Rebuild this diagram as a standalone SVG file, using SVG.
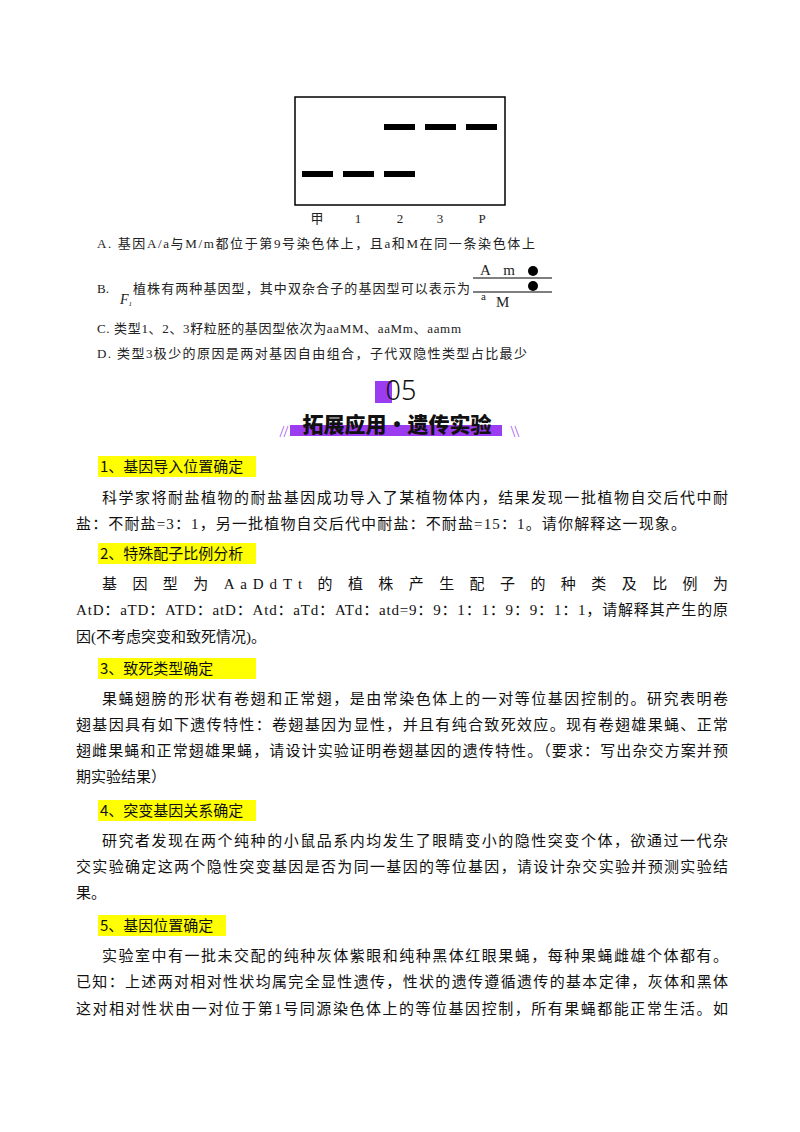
<svg xmlns="http://www.w3.org/2000/svg" width="800" height="1132" viewBox="0 0 800 1132">
<style>
.b{font-family:"Liberation Serif","Noto Sans CJK SC",serif;font-size:15px;fill:#111}
.s{font-family:"Liberation Serif","Noto Sans CJK SC",serif;font-size:13px;fill:#222}
.h{font-family:"Noto Sans CJK SC",sans-serif;font-size:15px;fill:#111}
.band{fill:#000}
</style>
<rect width="800" height="1132" fill="#fff"/>
<g id="gel">
<rect x="295" y="97" width="210" height="108" fill="none" stroke="#000" stroke-width="1.5"/>
<rect class="band" x="302" y="171" width="31" height="6"/><rect class="band" x="343" y="171" width="31" height="6"/><rect class="band" x="384" y="171" width="31" height="6"/>
<rect class="band" x="384" y="124" width="31" height="6"/><rect class="band" x="425" y="124" width="31" height="6"/><rect class="band" x="466" y="124" width="31" height="6"/>
<g class="s" text-anchor="middle" font-size="14"><text x="317" y="223">甲</text><text x="358" y="223">1</text><text x="400" y="223">2</text><text x="440" y="223">3</text><text x="482" y="223">P</text></g>
</g>
<g id="options" class="s">
<text x="97" y="248" textLength="438" lengthAdjust="spacing">A. 基因A/a与M/m都位于第9号染色体上，且a和M在同一条染色体上</text>
<text x="97" y="293">B.</text>
<text x="120" y="304" font-style="italic" font-size="14">F<tspan font-size="7" dy="2">1</tspan></text>
<text x="133" y="293" textLength="337" lengthAdjust="spacing">植株有两种基因型，其中双杂合子的基因型可以表示为</text>
<line x1="473" y1="278" x2="552" y2="278" stroke="#000" stroke-width="1.2"/>
<line x1="473" y1="292" x2="552" y2="292" stroke="#000" stroke-width="1.2"/>
<text x="480" y="275" font-size="15" textLength="35" lengthAdjust="spacing">A m</text>
<circle cx="533" cy="271" r="5" fill="#000"/><circle cx="533" cy="286" r="5" fill="#000"/>
<text x="481" y="300" font-size="11">a</text><text x="496" y="307" font-size="15">M</text>
<text x="97" y="333" textLength="364" lengthAdjust="spacing">C. 类型1、2、3籽粒胚的基因型依次为aaMM、aaMm、aamm</text>
<text x="97" y="358" textLength="430" lengthAdjust="spacing">D. 类型3极少的原因是两对基因自由组合，子代双隐性类型占比最少</text>
</g>
<g id="banner">
<rect x="375" y="381" width="17" height="22" fill="#9b3cf0"/>
<text x="401" y="400" text-anchor="middle" font-family="Noto Sans,sans-serif" font-size="27" font-weight="300" fill="#111">05</text>
<rect x="290" y="425" width="212" height="11" fill="#9b3cf0"/>
<text x="397" y="432" text-anchor="middle" font-family="Noto Sans CJK SC,sans-serif" font-size="21" font-weight="900" fill="#111">拓展应用•遗传实验</text>
<g stroke="#c28cf5" stroke-width="1.2"><line x1="280" y1="437" x2="284" y2="426"/><line x1="284" y1="437" x2="288" y2="426"/><line x1="511" y1="426" x2="515" y2="437"/><line x1="515" y1="426" x2="519" y2="437"/></g>
</g>
<g id="headings" class="h">
<rect x="98" y="456" width="158" height="21" fill="#ffff00"/><text x="100" y="472">1、基因导入位置确定</text>
<rect x="98" y="543" width="158" height="21" fill="#ffff00"/><text x="100" y="559">2、特殊配子比例分析</text>
<rect x="98" y="658" width="158" height="21" fill="#ffff00"/><text x="100" y="674">3、致死类型确定</text>
<rect x="98" y="800" width="158" height="21" fill="#ffff00"/><text x="100" y="816">4、突变基因关系确定</text>
<rect x="98" y="915" width="128" height="21" fill="#ffff00"/><text x="100" y="931">5、基因位置确定</text>
</g>
<g id="body" class="b">
<text x="102" y="503" textLength="626" lengthAdjust="spacing">科学家将耐盐植物的耐盐基因成功导入了某植物体内，结果发现一批植物自交后代中耐</text>
<text x="76" y="529" textLength="610" lengthAdjust="spacing">盐：不耐盐=3：1，另一批植物自交后代中耐盐：不耐盐=15：1。请你解释这一现象。</text>
<text x="102" y="589" textLength="626" lengthAdjust="spacing">基 因 型 为 AaDdTt 的 植 株 产 生 配 子 的 种 类 及 比 例 为</text>
<text x="76" y="615" textLength="652" lengthAdjust="spacing">AtD：aTD：ATD：atD：Atd：aTd：ATd：atd=9：9：1：1：9：9：1：1，请解释其产生的原</text>
<text x="76" y="642">因(不考虑突变和致死情况)。</text>
<text x="102" y="704" textLength="626" lengthAdjust="spacing">果蝇翅膀的形状有卷翅和正常翅，是由常染色体上的一对等位基因控制的。研究表明卷</text>
<text x="76" y="730" textLength="652" lengthAdjust="spacing">翅基因具有如下遗传特性：卷翅基因为显性，并且有纯合致死效应。现有卷翅雄果蝇、正常</text>
<text x="76" y="756" textLength="652" lengthAdjust="spacing">翅雌果蝇和正常翅雄果蝇，请设计实验证明卷翅基因的遗传特性。（要求：写出杂交方案并预</text>
<text x="76" y="782">期实验结果）</text>
<text x="102" y="846" textLength="626" lengthAdjust="spacing">研究者发现在两个纯种的小鼠品系内均发生了眼睛变小的隐性突变个体，欲通过一代杂</text>
<text x="76" y="872" textLength="652" lengthAdjust="spacing">交实验确定这两个隐性突变基因是否为同一基因的等位基因，请设计杂交实验并预测实验结</text>
<text x="76" y="898">果。</text>
<text x="102" y="961" textLength="626" lengthAdjust="spacing">实验室中有一批未交配的纯种灰体紫眼和纯种黑体红眼果蝇，每种果蝇雌雄个体都有。</text>
<text x="76" y="987" textLength="652" lengthAdjust="spacing">已知：上述两对相对性状均属完全显性遗传，性状的遗传遵循遗传的基本定律，灰体和黑体</text>
<text x="76" y="1014" textLength="652" lengthAdjust="spacing">这对相对性状由一对位于第1号同源染色体上的等位基因控制，所有果蝇都能正常生活。如</text>
</g>
</svg>
